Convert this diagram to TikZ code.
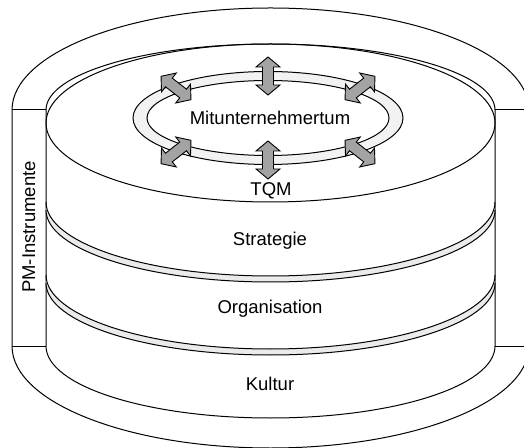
\documentclass[tikz,border=0pt]{standalone}
\usepackage{fontspec}
\setmainfont{Liberation Sans}
\usepackage{tikz}

\tikzset{
  rim/.style={line width=1pt},
  layer/.style={font=\fontsize{18.5}{22}\selectfont, inner sep=0pt, anchor=base},
  shade/.style={fill=gray!16},
  pmarrow/.style={fill=gray!72, draw=black, line width=0.9pt},
}
\newcommand{\ringarrow}[2]{%
  \draw[pmarrow, shift={#1}, rotate=#2] (-19,0) -- (-9,12) -- (-9,5.5) -- (9,5.5) -- (9,12)
    -- (19,0) -- (9,-12) -- (9,-5.5) -- (-9,-5.5) -- (-9,-12) -- cycle;
}

\begin{document}
\begin{tikzpicture}[x=1pt,y=1pt]
    \useasboundingbox (0,0) rectangle (524,447);
    \clip (0,0) rectangle (524,447);

    % outer sleeve
    \draw[rim] (12,337) arc[start angle=180,end angle=0,x radius=258.5,y radius=102] -- (529,101)
        arc[start angle=0,end angle=-180,x radius=258.5,y radius=102] -- cycle;
    \draw[rim] (12,337) -- (46,337) (12,101) -- (46,101) (495,337) -- (529,337) (495,101) -- (529,101);
    \draw[rim] (46,337) arc[start angle=180,end angle=0,x radius=224.5,y radius=66];

    % cylinder
    \draw[rim] (46,337) -- (46,101) arc[start angle=180,end angle=360,x radius=224.5,y radius=72] -- (495,337);
    \draw[rim] (270.5,324) ellipse [x radius=224.5, y radius=79];
    \foreach \y in {245,172} {
        \path[shade] (46,\y) arc[start angle=180,end angle=360,x radius=224.5,y radius=74] -- (495,\y-8)
            arc[start angle=0,end angle=-180,x radius=224.5,y radius=72] -- cycle;
        \draw[rim] (46,\y) arc[start angle=180,end angle=360,x radius=224.5,y radius=74];
        \draw[rim] (46,\y-8) arc[start angle=180,end angle=360,x radius=224.5,y radius=72];
    }

    % ring on top
    \draw[rim, fill=gray!10, even odd rule] (268,329) ellipse [x radius=135, y radius=46.5]
        (268,329) ellipse [x radius=121, y radius=37.5];
    \ringarrow{(268,371)}{90}
    \ringarrow{(268,287)}{90}
    \ringarrow{(176,359)}{-38}
    \ringarrow{(360,359)}{38}
    \ringarrow{(176,295)}{38}
    \ringarrow{(360,295)}{-38}

    \node[layer] (mit) at (270,322) {Mitunternehmertum};
    \node[layer] (tqm) at (271,251) {TQM};
    \node[layer] (strat) at (270,201) {Strategie};
    \node[layer] (org) at (270,133) {Organisation};
    \node[layer] (kult) at (270,57) {Kultur};
    \node[layer, rotate=90] (pm) at (35,220) {PM-Instrumente};
\end{tikzpicture}
\end{document}
